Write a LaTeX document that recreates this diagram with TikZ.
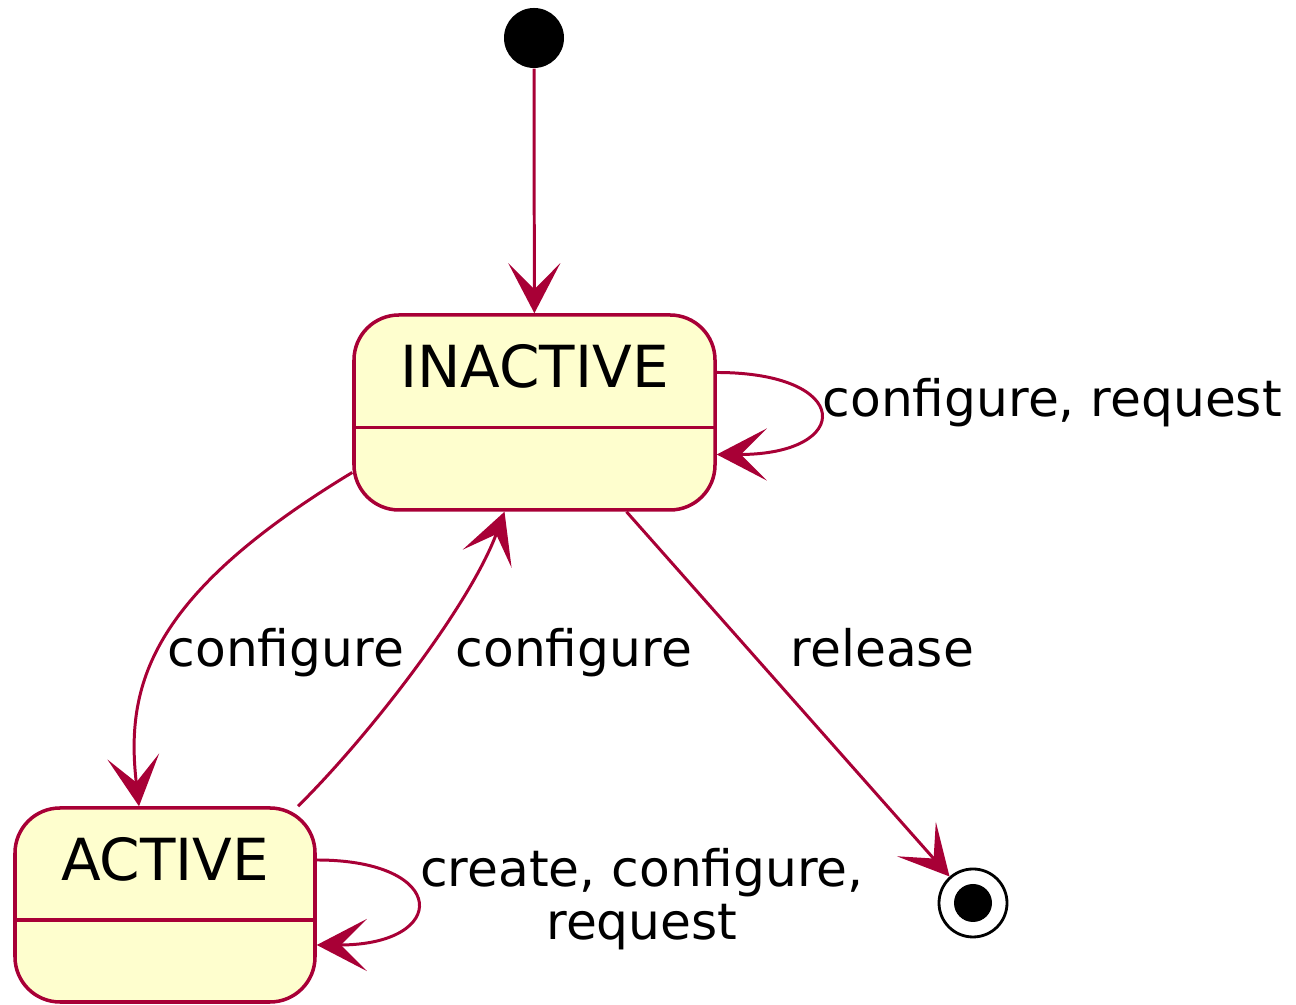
\documentclass[tikz,border=0pt]{standalone}
\usepackage{fontspec}
\setmainfont{DejaVu Sans}
\usepackage{tikz}
\usetikzlibrary{arrows.meta,positioning}
\definecolor{umlred}{HTML}{A80036}
\definecolor{umlfill}{HTML}{FEFECE}

\begin{document}
\begin{tikzpicture}[>={Stealth[length=5mm,width=5.2mm,inset=2.6mm]}]
			\tikzstyle{State}	= [rectangle, draw=umlred, fill=umlfill, line width=1pt, rounded corners=4.5mm, minimum width=3.61cm, minimum height=1.95cm, inner sep=0pt, text height=4.5mm, text depth=9.4mm, font=\fontsize{16.5}{18}\selectfont]
			\tikzstyle{Start}	= [circle, fill=black, minimum size=6mm, inner sep=0pt]
			\tikzstyle{End}		= [circle, draw=black, line width=0.8pt, minimum size=6.8mm, inner sep=0pt, path picture={\fill[black] (path picture bounding box.center) circle (1.9mm);}]
			\tikzstyle{Border}	= [umlred, line width=1pt]
			\tikzstyle{Trans}	= [umlred, line width=0.85pt]
			\tikzstyle{Label}	= [anchor=base west, inner sep=0pt, font=\fontsize{14.3}{15.2}\selectfont]

			\useasboundingbox (0,0) rectangle (12.96,10.05);

			\node (init) at (5.34, 9.67) [Start] {};
			\node (inactive) at (5.345, 5.925) [State] {INACTIVE};
			\node (active) at (1.65, 1.0) [State, minimum width=3.0cm, minimum height=1.94cm] {ACTIVE};
			\node (final) at (9.73, 1.02) [End] {};

			\draw ([yshift=-1.5mm]inactive.west) to ([yshift=-1.5mm]inactive.east) [Border];
			\draw ([yshift=-1.5mm]active.west) to ([yshift=-1.5mm]active.east) [Border];

			\draw [->] (init) to (inactive) [Trans];
			\draw [->] ([yshift=4mm]inactive.east) .. controls +(1.37,0) and +(1.37,0) .. ([yshift=-4.2mm]inactive.east) [Trans];
			\draw [->] ([yshift=-6mm]inactive.west) .. controls (1.5,4.1) and (1.25,3.2) .. ([xshift=-2.6mm]active.north) [Trans];
			\draw [->] ([xshift=13.3mm]active.north) .. controls (3.7,2.7) and (4.7,4.0) .. ([xshift=-3mm]inactive.south) [Trans];
			\draw [->] ([xshift=9.2mm]inactive.south) to (final) [Trans];
			\draw [->] ([yshift=4.5mm]active.east) .. controls +(1.33,0) and +(1.33,0) .. ([yshift=-4mm]active.east) [Trans];

			\node (lblidle) at (8.22, 5.88) [Label] {configure, request};
			\node (lbldown) at (1.67, 3.38) [Label] {configure};
			\node (lblup) at (4.55, 3.38) [Label] {configure};
			\node (lblrel) at (7.90, 3.38) [Label] {release};
			\node (lblbusy) at (6.42, 0.65) [Label, anchor=base, align=center] {create, configure,\\request};
		\end{tikzpicture}
\end{document}
